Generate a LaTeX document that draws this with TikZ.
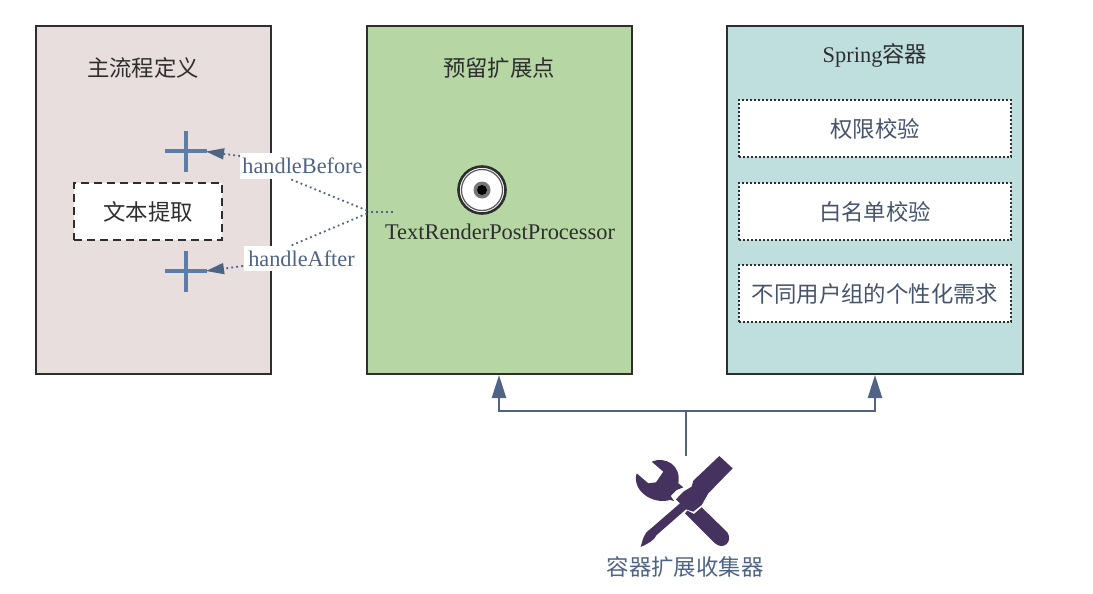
\documentclass[tikz,border=0pt]{standalone}
\usepackage{fontspec}
\setmainfont{Liberation Serif}
\newfontfamily\cjk{Noto Sans CJK SC}
\usetikzlibrary{arrows.meta}
\definecolor{ink}{HTML}{2E2E2E}
\definecolor{slate}{HTML}{4F6485}
\definecolor{plusblue}{HTML}{5B7DA8}
\definecolor{toolpurple}{HTML}{45325F}
\tikzset{
  panel/.style={draw=ink,line width=2pt,anchor=north west,inner sep=0pt,outer sep=0pt},
  title/.style={text=ink,font=\fontsize{22.4}{25}\selectfont\cjk,inner sep=0pt},
  dotbox/.style={draw=ink,fill=white,dash pattern=on 2pt off 2pt,line width=2pt,minimum width=272pt,minimum height=57pt,inner sep=0pt,text=slate!70!ink,font=\fontsize{22.4}{25}\selectfont\cjk},
  hook/.style={fill=white,inner sep=0pt,text=slate,font=\fontsize{22.3}{25}\selectfont},
  plusmark/.style={draw=plusblue,line width=3.2pt},
  dots/.style={draw=slate,dash pattern=on 1.8pt off 3.2pt,line width=1.8pt},
  pointer/.style={-{Stealth[inset=0pt,length=18pt,width=11pt,fill=slate]},draw=slate,dash pattern=on 1.8pt off 3.2pt,line width=1.8pt},
  feed/.style={draw=slate,line width=2.4pt},
  feedarrow/.style={feed,-{Stealth[inset=0pt,length=23pt,width=14pt]}}
}
\begin{document}
\begin{tikzpicture}[x=1pt,y=-1pt]
\useasboundingbox (0,0) rectangle (1093,594);
\node[panel,fill={rgb,255:red,231;green,222;blue,221},minimum width=235pt,minimum height=348pt] (main) at (36,26) {};
\node[panel,fill={rgb,255:red,182;green,214;blue,163},minimum width=265pt,minimum height=348pt] (ext) at (367,26) {};
\node[panel,fill={rgb,255:red,191;green,223;blue,223},minimum width=296pt,minimum height=348pt] (spring) at (727,26) {};
\node[title] (maint) at (143,68) {主流程定义};
\node[title] (extt) at (499,68) {预留扩展点};
\node[title] (springt) at (875,55) {{\rmfamily Spring}容器};
\node[draw=ink,fill=white,dash pattern=on 8pt off 5pt,line width=2pt,minimum width=148pt,minimum height=57pt,inner sep=0pt,text=ink,font=\fontsize{22.4}{25}\selectfont\cjk] (extract) at (148,211.5) {文本提取};
\node[dotbox] (auth) at (875,128.5) {权限校验};
\node[dotbox] (white) at (875,211.5) {白名单校验};
\node[dotbox] (group) at (875,293.5) {不同用户组的个性化需求};
% plus marks
\coordinate (plusA) at (186,151);
\coordinate (plusB) at (186,271);
\coordinate (tipA) at (206,151.5);
\coordinate (tipB) at (206,271);
\draw[plusmark] (165,151) -- (207,151) (plusA) ++(0,-20) -- ++(0,41);
\draw[plusmark] (165,271) -- (207,271) (plusB) ++(0,-20) -- ++(0,41);
% hook labels
\coordinate (hub) at (393,212);
\coordinate (bendMid) at (368,212);
\coordinate (bendA) at (367,210.5);
\coordinate (bendB) at (367,213.5);
\node[hook,minimum width=125pt,minimum height=26pt] (before) at (302.5,166) {handleBefore};
\node[hook,minimum width=115pt,minimum height=25pt] (after) at (301.5,258.5) {handleAfter};
\coordinate (beforeOut) at (290,179);
\coordinate (afterOut) at (290,246);
\coordinate (beforeIn) at (240,156);
\coordinate (afterIn) at (243,266);
\draw[dots] (hub) -- (bendMid);
\draw[dots] (bendA) -- (beforeOut);
\draw[dots] (bendB) -- (afterOut);
\draw[pointer] (beforeIn) -- (tipA);
\draw[pointer] (afterIn) -- (tipB);
% target
\node[circle,draw=ink,fill=white,line width=2.6pt,minimum size=47pt,inner sep=0pt] (target) at (482,190) {};
\draw[ink!80,line width=1.2pt] (target) circle (20.5pt);
\fill[ink!65] (target) circle (8.5pt);
\fill[black] (target) circle (5pt);
\node[text=ink,font=\fontsize{22.4}{25}\selectfont,inner sep=0pt] (trpp) at (500,232) {TextRenderPostProcessor};
% collector
\node[text=slate,font=\fontsize{22.4}{25}\selectfont\cjk,inner sep=0pt] (collector) at (685,567) {容器扩展收集器};
\coordinate (junction) at (686,411);
\coordinate (toolTop) at (686,456);
\coordinate (leftTurn) at (499,411);
\coordinate (rightTurn) at (875,411);
\coordinate (extIn) at (499,375);
\coordinate (springIn) at (875,375);
\draw[feed] (toolTop) -- (junction);
\draw[feedarrow] (junction) -- (leftTurn) -- (extIn);
\draw[feedarrow] (junction) -- (rightTurn) -- (springIn);
% tool icon
\begin{scope}[shift={(630,450)},x=0.3333pt,y=-0.3333pt]
\fill[toolpurple] (268,18) -- (308,55) -- (235,130) -- (215,165) -- (190,185) -- (168,178) -- (80,255) .. controls (72,272) and (55,280) .. (32,291) .. controls (38,272) and (40,250) .. (60,238) -- (150,160) -- (138,148) -- (160,125) -- (185,110) -- (190,92) -- cycle;
\fill[toolpurple] (215,172) -- (292,247) .. controls (310,275) and (280,302) .. (255,280) -- (165,190) -- (172,182) -- (192,192) -- cycle;
\fill[toolpurple] (65,35) .. controls (105,18) and (155,45) .. (145,100) -- (160,112) -- (140,120) -- (122,138) -- (132,153) -- (120,150) .. controls (65,165) and (5,120) .. (20,70) -- (55,100) -- (78,97) -- (100,65) -- cycle;
\end{scope}
\end{tikzpicture}
\end{document}
